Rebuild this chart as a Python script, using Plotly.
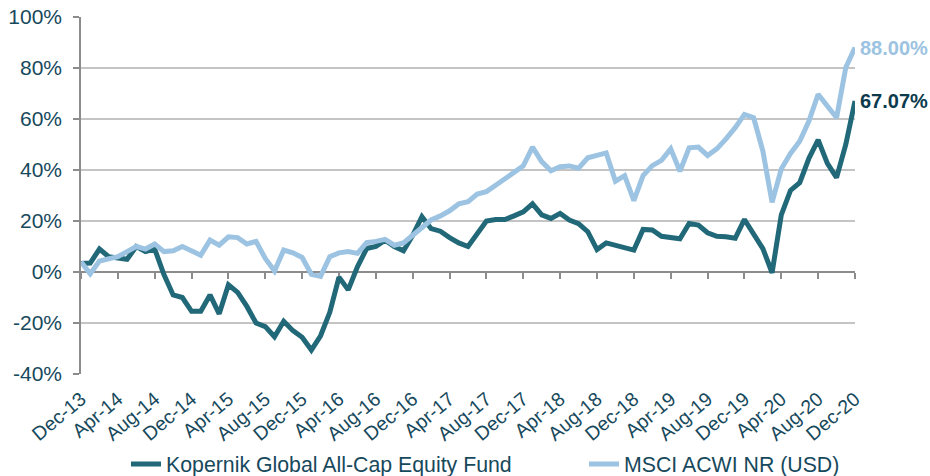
import pandas as pd
import plotly.graph_objects as go

months = [d.strftime("%b-%y") for d in pd.date_range("2013-12-01", "2020-12-01", freq="MS")]

kopernik = [3.3, 3.5, 9, 6, 5.5, 5, 10, 8, 9, -1, -9, -10, -15.4, -15.4, -9, -16.4, -5, -8,
            -13.5, -20, -21.4, -25.4, -19.3, -23, -25.6, -30.6, -25, -15.8, -2, -7, 2, 9.2,
            10, 12.5, 10, 8.3, 14.4, 21.7, 17, 16, 13.5, 11.4, 10, 15, 20, 20.6, 20.6, 22,
            23.6, 26.7, 22.4, 21, 23, 20.4, 19, 15.8, 8.8, 11.4, 10.5, 9.9, 8.6, 16.7, 16.5,
            14, 13.5, 13, 19, 18.4, 15.4, 14, 13.8, 13.2, 20.6, 15, 9.2, -0.3, 22.4, 32, 35,
            44.6, 51.8, 42.6, 37, 50, 67.07]
msci = [4, -0.7, 4.3, 5, 6, 8, 10, 9, 11, 8, 8.3, 10, 8.3, 6.6, 12.5, 10.5, 13.8, 13.5, 11,
        12, 5.3, 0.4, 8.6, 7.5, 5.7, -0.9, -1.7, 6, 7.5, 8, 7.3, 11.5, 12, 12.8, 10.5, 11.4,
        14.4, 17.7, 20.4, 22, 24, 26.7, 27.6, 30.6, 31.5, 34, 36.7, 39.4, 41.6, 49, 43.3,
        39.7, 41.3, 41.6, 40.7, 44.8, 46, 46.7, 35.6, 37.8, 28, 37.8, 41.7, 43.8, 48.3, 39.5,
        48.7, 49, 45.7, 48.3, 52.2, 56.6, 61.8, 60.5, 47.4, 27.3, 40.4, 46.5, 51.3, 59.2,
        69.7, 64.8, 60.5, 80.2, 88.0]

names = ["Kopernik Global All-Cap Equity Fund", "MSCI ACWI NR (USD)"]
tick_labels = months[::4]
y_ticks = [-40, -20, 0, 20, 40, 60, 80, 100]

DARK = "#216878"
LIGHT = "#9cc3e2"
TXT = "#17495c"
FONT = "Liberation Sans, Arial, sans-serif"

fig = go.Figure()
fig.add_trace(go.Scatter(x=months, y=kopernik, name=names[0], mode="lines",
                         line=dict(color=DARK, width=5), legend="legend"))
fig.add_trace(go.Scatter(x=months, y=msci, name=names[1], mode="lines",
                         line=dict(color=LIGHT, width=5), legend="legend2"))
# carrier for the zero-level category axis with tick marks
fig.add_trace(go.Scatter(x=months, y=[None] * len(months), xaxis="x2", yaxis="y",
                         mode="lines", showlegend=False, hoverinfo="skip"))

fig.add_annotation(x=months[-1], y=msci[-1], text=f"<b>{msci[-1]:.2f}%</b>", showarrow=False,
                   xanchor="left", yanchor="middle", xshift=3,
                   font=dict(family=FONT, size=20, color=LIGHT))
fig.add_annotation(x=months[-1], y=kopernik[-1], text=f"<b>{kopernik[-1]:.2f}%</b>", showarrow=False,
                   xanchor="left", yanchor="middle", xshift=3,
                   font=dict(family=FONT, size=20, color="#0b3a4c"))

leg_common = dict(orientation="h", xref="container", yref="container", y=0.025,
                  yanchor="middle", xanchor="left", bgcolor="rgba(0,0,0,0)",
                  font=dict(family=FONT, size=21.3, color=TXT))

fig.update_layout(
    width=930, height=476,
    margin=dict(l=81, r=75, t=17, b=102, autoexpand=False),
    paper_bgcolor="white", plot_bgcolor="white",
    font=dict(family=FONT, size=21, color=TXT),
    showlegend=True,
    legend=dict(x=126 / 930, **leg_common),
    legend2=dict(x=584 / 930, **leg_common),
    xaxis=dict(type="category", range=[0, len(months) - 1], tickmode="array",
               tickvals=tick_labels, ticktext=tick_labels, tickangle=-40,
               showgrid=False, showline=False, ticks="", zeroline=False,
               ticklabelstandoff=9,
               tickfont=dict(family=FONT, size=19.5, color=TXT), automargin=False),
    xaxis2=dict(type="category", overlaying="x", anchor="free", position=40 / 140,
                range=[0, len(months) - 1], tickmode="array", tickvals=tick_labels,
                showticklabels=False, ticks="outside", ticklen=6, tickwidth=1.5,
                tickcolor="#8c8c8c", showline=True, linecolor="#8c8c8c", linewidth=1.5,
                showgrid=False, zeroline=False, layer="below traces", automargin=False),
    yaxis=dict(range=[-40, 100], tickmode="array", tickvals=y_ticks,
               ticktext=[f"{v}%" for v in y_ticks], showgrid=True, gridcolor="#c4c4c4",
               gridwidth=1.5, zeroline=False, showline=True, linecolor="#8c8c8c",
               linewidth=1.5, ticks="outside", ticklen=6, tickwidth=1.5, tickcolor="#8c8c8c",
               ticklabelstandoff=7, tickfont=dict(family=FONT, size=21, color=TXT),
               automargin=False, layer="below traces"),
)

fig.write_html("out.html", config={"displayModeBar": False},
               post_script="document.body.style.margin='0';")
